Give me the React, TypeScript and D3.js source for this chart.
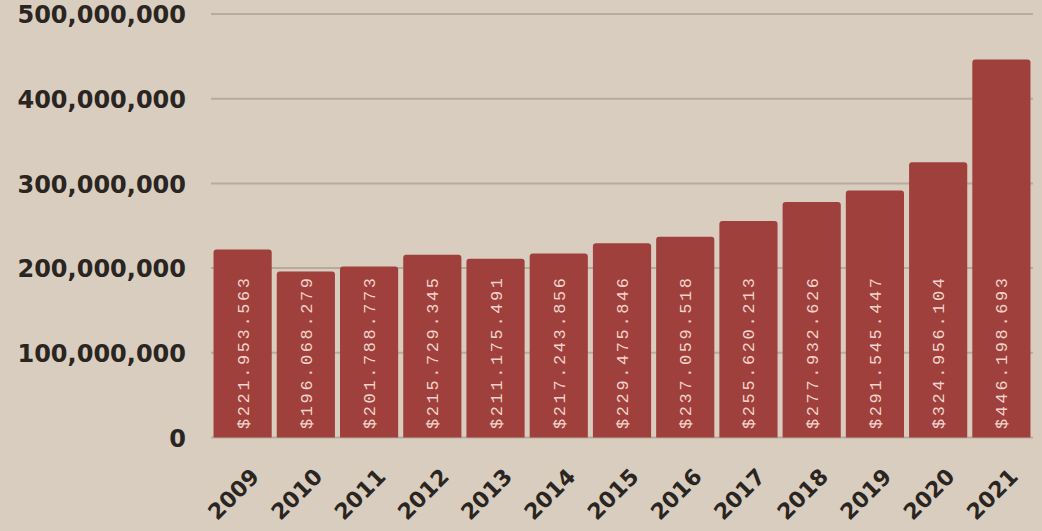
import React, { useEffect, useRef } from 'react';
import * as d3 from 'd3';

const years = ['2009', '2010', '2011', '2012', '2013', '2014', '2015', '2016', '2017', '2018', '2019', '2020', '2021'];
const amounts = [221953563, 196068279, 201788773, 215729345, 211175491, 217243856, 229475846, 237059518, 255620213, 277932626, 291545447, 324956104, 446198693];
const yTicks = [0, 100000000, 200000000, 300000000, 400000000, 500000000];

const W = 1042;
const H = 531;

const App: React.FC = () => {
  const svgRef = useRef<SVGSVGElement>(null);

  useEffect(() => {
    if (!svgRef.current) return;
    const svg = d3.select(svgRef.current);
    svg.selectAll('*').remove();

    svg.append('rect').attr('width', W).attr('height', H).attr('fill', '#d8cdbf');

    const x = d3.scaleBand<string>().domain(years).range([211, 1033]).paddingInner(0.08).paddingOuter(0.04);
    const y = d3.scaleLinear().domain([0, 500000000]).range([437.5, 14]);

    // gridlines
    svg.append('g')
      .selectAll('line')
      .data(yTicks)
      .enter()
      .append('line')
      .attr('x1', 211)
      .attr('x2', 1033)
      .attr('y1', d => y(d))
      .attr('y2', d => y(d))
      .attr('stroke', '#b7ab9d')
      .attr('stroke-width', 2);

    // y labels
    const fmt = d3.format(',');
    svg.append('g')
      .selectAll('text')
      .data(yTicks)
      .enter()
      .append('text')
      .attr('x', 186)
      .attr('y', d => y(d))
      .attr('dy', '0.38em')
      .attr('text-anchor', 'end')
      .attr('font-family', 'DejaVu Sans')
      .attr('font-weight', 'bold')
      .attr('font-size', 24)
      .attr('fill', '#2a2521')
      .text(d => fmt(d));

    const data = years.map((yr, i) => ({ yr, v: amounts[i] }));

    // bars with rounded tops
    svg.append('g')
      .selectAll('path')
      .data(data)
      .enter()
      .append('path')
      .attr('d', d => {
        const x0 = x(d.yr)!;
        const w = x.bandwidth();
        const top = y(d.v);
        const bot = y(0);
        const r = 3;
        return `M${x0},${bot}V${top + r}Q${x0},${top} ${x0 + r},${top}H${x0 + w - r}Q${x0 + w},${top} ${x0 + w},${top + r}V${bot}Z`;
      })
      .attr('fill', '#a0403c');

    // value labels inside bars
    svg.append('g')
      .selectAll('text')
      .data(data)
      .enter()
      .append('text')
      .attr('transform', d => `translate(${x(d.yr)! + x.bandwidth() / 2 + 6}, 429) rotate(-90)`)
      .attr('font-family', 'Liberation Mono')
      .attr('font-size', 17)
      .attr('letter-spacing', 2.6)
      .attr('fill', '#f1d3cb')
      .text(d => '$' + fmt(d.v).replace(/,/g, '.'));

    // x labels, rotated 45 degrees
    const xl = svg.append('g')
      .selectAll('g')
      .data(years)
      .enter()
      .append('g')
      .attr('transform', d => `translate(${x(d)! + x.bandwidth() / 2 + 18}, 478)`);
    xl.append('text')
      .attr('transform', 'rotate(-45)')
      .attr('text-anchor', 'end')
      .attr('font-family', 'DejaVu Sans')
      .attr('font-weight', 'bold')
      .attr('font-size', 22)
      .attr('fill', '#2a2521')
      .text(d => d);
  }, []);

  return <svg ref={svgRef} width={W} height={H} style={{ position: 'absolute', left: 0, top: 0 }}></svg>;
};

export default App;
